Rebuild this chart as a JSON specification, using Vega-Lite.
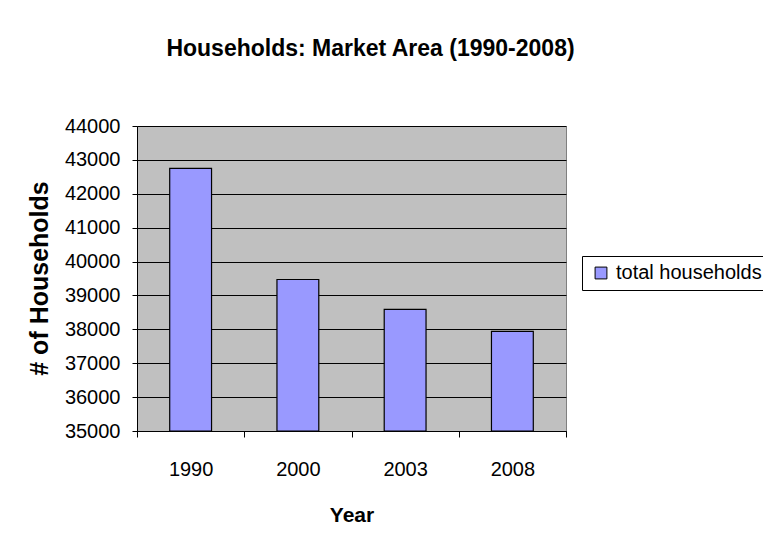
{
  "$schema": "https://vega.github.io/schema/vega-lite/v6.json",
  "width": 429,
  "height": 305,
  "autosize": {"type": "none"},
  "padding": {"left": 137, "top": 126, "right": 197, "bottom": 125},
  "background": "white",
  "title": {
    "text": "Households: Market Area (1990-2008)",
    "font": "Liberation Sans",
    "fontSize": 23,
    "fontWeight": "bold",
    "color": "black",
    "anchor": "middle",
    "frame": "group",
    "dx": 19,
    "offset": 55
  },
  "data": {
    "values": [
      {"Year": "1990", "households": 42750},
      {"Year": "2000", "households": 39470},
      {"Year": "2003", "households": 38590},
      {"Year": "2008", "households": 37940}
    ]
  },
  "mark": {"type": "bar", "width": {"band": 0.39}, "stroke": "black", "strokeWidth": 1.2},
  "encoding": {
    "x": {
      "field": "Year",
      "type": "ordinal",
      "scale": {"paddingInner": 0, "paddingOuter": 0},
      "axis": {
        "title": "Year",
        "labelAngle": 0,
        "tickBand": "extent",
        "tickSize": 6,
        "tickColor": "black",
        "domainColor": "black",
        "labelFont": "Liberation Sans",
        "labelFontSize": 20,
        "labelColor": "black",
        "labelPadding": 22,
        "titleFont": "Liberation Sans",
        "titleFontSize": 21,
        "titleFontWeight": "bold",
        "titleColor": "black",
        "titlePadding": 25,
        "grid": false
      }
    },
    "y": {
      "field": "households",
      "type": "quantitative",
      "scale": {"domain": [35000, 44000], "zero": false, "nice": false},
      "axis": {
        "title": "# of Households",
        "values": [35000, 36000, 37000, 38000, 39000, 40000, 41000, 42000, 43000, 44000],
        "format": "d",
        "tickSize": 5,
        "tickColor": "black",
        "domainColor": "black",
        "gridColor": "black",
        "gridOpacity": 1,
        "gridWidth": 1,
        "labelFont": "Liberation Sans",
        "labelFontSize": 20,
        "labelColor": "black",
        "labelPadding": 12,
        "titleFont": "Liberation Sans",
        "titleFontSize": 25,
        "titleFontWeight": "bold",
        "titleColor": "black",
        "titleX": -85,
        "titleY": 152
      }
    },
    "y2": {"datum": 35000},
    "color": {
      "datum": "total households",
      "scale": {"range": ["#9999FF"]},
      "legend": {
        "title": null,
        "orient": "none",
        "legendX": 445,
        "legendY": 130,
        "strokeColor": "black",
        "padding": 7,
        "symbolOffset": 2,
        "labelOffset": 5,
        "symbolType": "square",
        "symbolSize": 140,
        "symbolStrokeColor": "black",
        "symbolStrokeWidth": 1,
        "symbolOpacity": 1,
        "labelFont": "Liberation Sans",
        "labelFontSize": 20,
        "labelColor": "black",
        "labelLimit": 300
      }
    }
  },
  "config": {
    "view": {"fill": "#C0C0C0", "stroke": "#808080", "strokeWidth": 1}
  }
}
